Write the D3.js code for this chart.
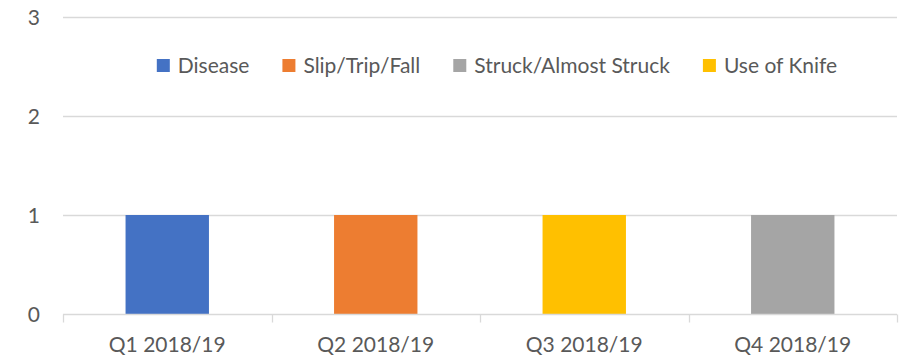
<!DOCTYPE html>
<html>
<head>
<meta charset="utf-8">
<script src="https://cdn.jsdelivr.net/npm/d3@7"></script>
<style>
  html, body { margin: 0; padding: 0; background: #fff; }
  svg { display: block; }
  text { font-family: Lato, "Open Sans", sans-serif; fill: #595959; }
</style>
</head>
<body>
<svg id="chart" width="904" height="361"></svg>
<script>
// Incident counts per quarter, stacked by incident type
const categories = ["Q1 2018/19", "Q2 2018/19", "Q3 2018/19", "Q4 2018/19"];
const seriesNames = ["Disease", "Slip/Trip/Fall", "Struck/Almost Struck", "Use of Knife"];
const disease = [1, 0, 0, 0];
const slipTripFall = [0, 1, 0, 0];
const struck = [0, 0, 0, 1];
const useOfKnife = [0, 0, 1, 0];
const seriesColors = ["#4472C4", "#ED7D31", "#A5A5A5", "#FFC000"];
const yTicks = [0, 1, 2, 3];

const seriesValues = [disease, slipTripFall, struck, useOfKnife];
const rows = categories.map((c, i) => {
  const r = { category: c };
  seriesNames.forEach((s, j) => { r[s] = seriesValues[j][i]; });
  return r;
});

const svg = d3.select("#chart");
const margin = { left: 63, right: 7, top: 17, bottom: 47 };
const W = 904, H = 361;
const FONT = "21px";

const x = d3.scaleBand()
  .domain(categories)
  .range([margin.left, W - margin.right])
  .paddingInner(0.6)
  .paddingOuter(0.3);

const y = d3.scaleLinear()
  .domain([0, 3])
  .range([H - margin.bottom, margin.top]);

// Horizontal gridlines
svg.append("g")
  .selectAll("line")
  .data(yTicks.filter(t => t > 0))
  .join("line")
  .attr("x1", margin.left)
  .attr("x2", W - margin.right)
  .attr("y1", d => Math.round(y(d)) + 0.5)
  .attr("y2", d => Math.round(y(d)) + 0.5)
  .attr("stroke", "#D9D9D9")
  .attr("stroke-width", 1.3);

// Y axis labels
const yAxis = d3.axisLeft(y).tickValues(yTicks).tickSize(0).tickPadding(0).tickFormat(d3.format("d"));
const gy = svg.append("g")
  .attr("transform", `translate(${margin.left - 23},0)`)
  .call(yAxis);
gy.select(".domain").remove();
gy.selectAll("text")
  .style("font-size", FONT)
  .attr("fill", "#595959")
  .attr("dy", "0.36em");

// Stacked bars
const stack = d3.stack().keys(seriesNames);
const layers = stack(rows);
svg.append("g")
  .selectAll("g")
  .data(layers)
  .join("g")
  .attr("fill", (d, i) => seriesColors[i])
  .selectAll("rect")
  .data(d => d.filter(p => p[1] - p[0] > 0))
  .join("rect")
  .attr("x", d => x(d.data.category))
  .attr("width", x.bandwidth())
  .attr("y", d => y(d[1]))
  .attr("height", d => y(d[0]) - y(d[1]));

// Category axis with tick marks between categories
const xAxisY = Math.round(y(0)) + 0.5;
const gx = svg.append("g");
gx.append("line")
  .attr("x1", margin.left).attr("x2", W - margin.right)
  .attr("y1", xAxisY).attr("y2", xAxisY)
  .attr("stroke", "#D9D9D9").attr("stroke-width", 1.3);
const bounds = d3.range(categories.length + 1).map(i => margin.left + i * (W - margin.left - margin.right) / categories.length);
gx.selectAll("line.tick")
  .data(bounds)
  .join("line")
  .attr("class", "tick")
  .attr("x1", d => Math.round(d) + 0.5).attr("x2", d => Math.round(d) + 0.5)
  .attr("y1", xAxisY).attr("y2", xAxisY + 8)
  .attr("stroke", "#D9D9D9").attr("stroke-width", 1.3);
gx.selectAll("text")
  .data(categories)
  .join("text")
  .attr("x", d => x(d) + x.bandwidth() / 2)
  .attr("y", 352)
  .attr("text-anchor", "middle")
  .style("font-size", FONT)
  .text(d => d);

// Legend, centred above the bars
const legend = svg.append("g");
const items = legend.selectAll("g")
  .data(seriesNames)
  .join("g");
items.append("rect")
  .attr("width", 13).attr("height", 13)
  .attr("y", 59)
  .attr("fill", (d, i) => seriesColors[i]);
items.append("text")
  .attr("x", 21)
  .attr("y", 73)
  .style("font-size", FONT)
  .text(d => d);
const gap = 33;
let offset = 0;
const positions = [];
items.each(function () {
  const w = 21 + d3.select(this).select("text").node().getComputedTextLength();
  positions.push(offset);
  offset += w + gap;
});
const totalW = offset - gap;
const startX = 497 - totalW / 2;
items.attr("transform", (d, i) => `translate(${startX + positions[i]},0)`);
</script>
</body>
</html>
